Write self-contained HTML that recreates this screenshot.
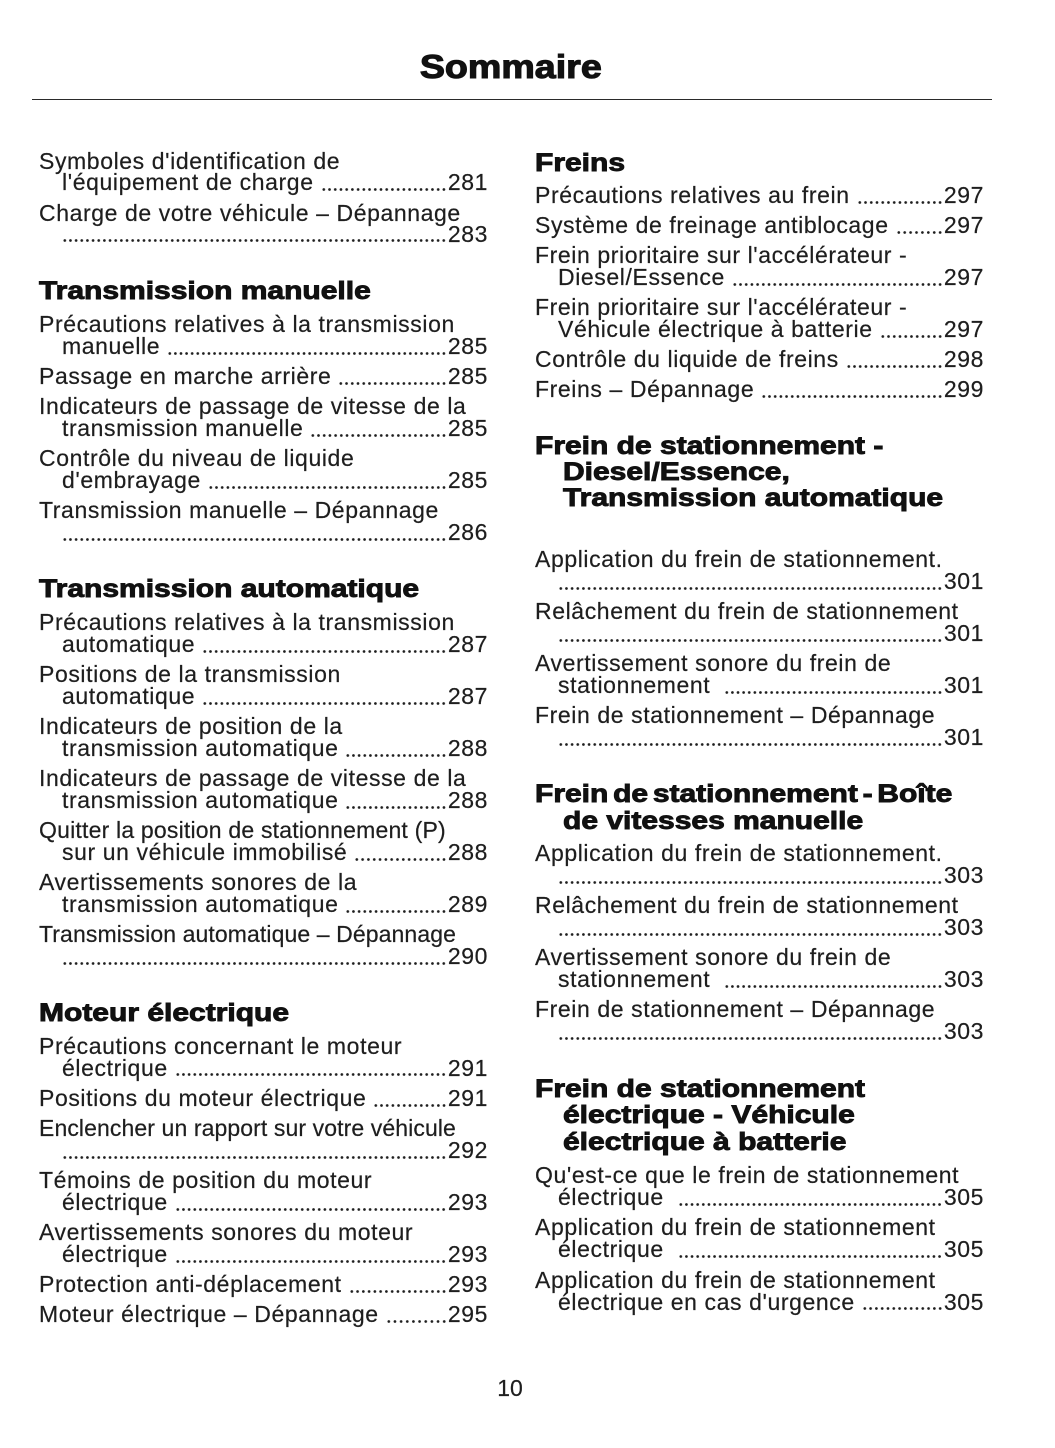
<!DOCTYPE html>
<html lang="fr">
<head>
<meta charset="utf-8">
<style>
html,body{margin:0;padding:0;background:#fff;}
body{width:1055px;height:1448px;position:relative;overflow:hidden;font-family:"Liberation Sans",Arial,sans-serif;color:#1e1e1e;}
.t{position:absolute;font-size:23px;line-height:23px;height:23px;white-space:nowrap;letter-spacing:0.6px;-webkit-text-stroke:0.2px #1e1e1e;}
.r{position:absolute;display:flex;font-size:23px;line-height:23px;height:23px;white-space:nowrap;letter-spacing:0.6px;-webkit-text-stroke:0.2px #1e1e1e;}
.r span{flex:none;}
.r i{flex:1 1 auto;min-width:0;margin-left:7px;margin-right:1px;font-style:normal;
  background-image:radial-gradient(circle at center,#1e1e1e 0,#1e1e1e 1.1px,rgba(30,30,30,0) 1.6px);
  background-size:5.6px 5px;background-repeat:space no-repeat;background-position:right 0 bottom 2.5px;}
.r i.z{margin-left:0;}
.r b{flex:none;font-weight:normal;}
.h{position:absolute;font-size:25px;line-height:25px;height:25px;font-weight:bold;white-space:nowrap;transform:scaleX(1.2);transform-origin:0 0;-webkit-text-stroke:0.9px #111;color:#111;}
.L{left:39px;}
.Li{left:62px;}
.LR{left:39px;width:449px;}
.LiR{left:62px;width:426px;}
.R{left:535px;}
.Ri{left:558px;}
.RR{left:535px;width:449px;}
.RiR{left:558px;width:426px;}
.Hi{left:563px;}
#title{position:absolute;left:311px;width:400px;top:50px;text-align:center;font-size:33px;line-height:33px;font-weight:bold;color:#111;}
#title span{display:inline-block;transform:scaleX(1.14);transform-origin:50% 0;-webkit-text-stroke:1.1px #111;}
#rule{position:absolute;left:32px;width:960px;top:98.5px;height:1.5px;background:#2a2a2a;}
#pn{position:absolute;left:460px;width:100px;text-align:center;top:1377px;font-size:23px;line-height:23px;-webkit-text-stroke:0.2px #1e1e1e;}
</style>
</head>
<body>
<div id="title"><span>Sommaire</span></div>
<div id="rule"></div>

<!-- LEFT COLUMN -->
<div class="t L" style="top:149.5px">Symboles d'identification de</div>
<div class="r LiR" style="top:171px"><span>l'équipement de charge</span><i></i><b>281</b></div>
<div class="t L" style="top:201.5px">Charge de votre véhicule – Dépannage</div>
<div class="r LiR" style="top:222.5px"><span></span><i class="z"></i><b>283</b></div>

<div class="h L" style="top:278.8px">Transmission manuelle</div>
<div class="t L" style="top:313px">Précautions relatives à la transmission</div>
<div class="r LiR" style="top:335px"><span>manuelle</span><i></i><b>285</b></div>
<div class="r LR" style="top:365px"><span>Passage en marche arrière</span><i></i><b>285</b></div>
<div class="t L" style="top:395px">Indicateurs de passage de vitesse de la</div>
<div class="r LiR" style="top:417px"><span>transmission manuelle</span><i></i><b>285</b></div>
<div class="t L" style="top:447px">Contrôle du niveau de liquide</div>
<div class="r LiR" style="top:469px"><span>d'embrayage</span><i></i><b>285</b></div>
<div class="t L" style="top:499px">Transmission manuelle – Dépannage</div>
<div class="r LiR" style="top:521px"><span></span><i class="z"></i><b>286</b></div>

<div class="h L" style="top:576.8px">Transmission automatique</div>
<div class="t L" style="top:611px">Précautions relatives à la transmission</div>
<div class="r LiR" style="top:633px"><span>automatique</span><i></i><b>287</b></div>
<div class="t L" style="top:663px">Positions de la transmission</div>
<div class="r LiR" style="top:685px"><span>automatique</span><i></i><b>287</b></div>
<div class="t L" style="top:715px">Indicateurs de position de la</div>
<div class="r LiR" style="top:737px"><span>transmission automatique</span><i></i><b>288</b></div>
<div class="t L" style="top:767px">Indicateurs de passage de vitesse de la</div>
<div class="r LiR" style="top:789px"><span>transmission automatique</span><i></i><b>288</b></div>
<div class="t L" style="top:819px;letter-spacing:0.2px">Quitter la position de stationnement (P)</div>
<div class="r LiR" style="top:841px"><span>sur un véhicule immobilisé</span><i></i><b>288</b></div>
<div class="t L" style="top:871px">Avertissements sonores de la</div>
<div class="r LiR" style="top:893px"><span>transmission automatique</span><i></i><b>289</b></div>
<div class="t L" style="top:923px;letter-spacing:0.1px">Transmission automatique – Dépannage</div>
<div class="r LiR" style="top:945px"><span></span><i class="z"></i><b>290</b></div>

<div class="h L" style="top:1001px">Moteur électrique</div>
<div class="t L" style="top:1034.5px">Précautions concernant le moteur</div>
<div class="r LiR" style="top:1056.5px"><span>électrique</span><i></i><b>291</b></div>
<div class="r LR" style="top:1087px"><span>Positions du moteur électrique</span><i></i><b>291</b></div>
<div class="t L" style="top:1117px;letter-spacing:0.1px">Enclencher un rapport sur votre véhicule</div>
<div class="r LiR" style="top:1139px"><span></span><i class="z"></i><b>292</b></div>
<div class="t L" style="top:1169px">Témoins de position du moteur</div>
<div class="r LiR" style="top:1191px"><span>électrique</span><i></i><b>293</b></div>
<div class="t L" style="top:1221px">Avertissements sonores du moteur</div>
<div class="r LiR" style="top:1243px"><span>électrique</span><i></i><b>293</b></div>
<div class="r LR" style="top:1273px"><span>Protection anti-déplacement</span><i></i><b>293</b></div>
<div class="r LR" style="top:1303px"><span>Moteur électrique – Dépannage</span><i></i><b>295</b></div>

<!-- RIGHT COLUMN -->
<div class="h R" style="top:150.8px">Freins</div>
<div class="r RR" style="top:184px"><span>Précautions relatives au frein</span><i></i><b>297</b></div>
<div class="r RR" style="top:214px"><span>Système de freinage antiblocage</span><i></i><b>297</b></div>
<div class="t R" style="top:244px">Frein prioritaire sur l'accélérateur -</div>
<div class="r RiR" style="top:266px"><span>Diesel/Essence</span><i></i><b>297</b></div>
<div class="t R" style="top:296px">Frein prioritaire sur l'accélérateur -</div>
<div class="r RiR" style="top:318px"><span>Véhicule électrique à batterie</span><i></i><b>297</b></div>
<div class="r RR" style="top:348px"><span>Contrôle du liquide de freins</span><i></i><b>298</b></div>
<div class="r RR" style="top:378px"><span>Freins – Dépannage</span><i></i><b>299</b></div>

<div class="h R" style="top:433.8px">Frein de stationnement -</div>
<div class="h Hi" style="top:460.3px">Diesel/Essence,</div>
<div class="h Hi" style="top:485.8px">Transmission automatique</div>
<div class="t R" style="top:547.5px">Application du frein de stationnement.</div>
<div class="r RiR" style="top:570px"><span></span><i class="z"></i><b>301</b></div>
<div class="t R" style="top:600px">Relâchement du frein de stationnement</div>
<div class="r RiR" style="top:622px"><span></span><i class="z"></i><b>301</b></div>
<div class="t R" style="top:652px">Avertissement sonore du frein de</div>
<div class="r RiR" style="top:674px"><span>stationnement</span><i style="margin-left:14px"></i><b>301</b></div>
<div class="t R" style="top:704px">Frein de stationnement – Dépannage</div>
<div class="r RiR" style="top:726px"><span></span><i class="z"></i><b>301</b></div>

<div class="h R" style="top:782.1px;word-spacing:-3px">Frein de stationnement - Boîte</div>
<div class="h Hi" style="top:808.6px">de vitesses manuelle</div>
<div class="t R" style="top:842px">Application du frein de stationnement.</div>
<div class="r RiR" style="top:864px"><span></span><i class="z"></i><b>303</b></div>
<div class="t R" style="top:894px">Relâchement du frein de stationnement</div>
<div class="r RiR" style="top:916px"><span></span><i class="z"></i><b>303</b></div>
<div class="t R" style="top:946px">Avertissement sonore du frein de</div>
<div class="r RiR" style="top:968px"><span>stationnement</span><i style="margin-left:14px"></i><b>303</b></div>
<div class="t R" style="top:998px">Frein de stationnement – Dépannage</div>
<div class="r RiR" style="top:1020px"><span></span><i class="z"></i><b>303</b></div>

<div class="h R" style="top:1077.1px">Frein de stationnement</div>
<div class="h Hi" style="top:1103.3px">électrique - Véhicule</div>
<div class="h Hi" style="top:1129.5px">électrique à batterie</div>
<div class="t R" style="top:1164px">Qu'est-ce que le frein de stationnement</div>
<div class="r RiR" style="top:1186px"><span>électrique</span><i style="margin-left:14px"></i><b>305</b></div>
<div class="t R" style="top:1216px">Application du frein de stationnement</div>
<div class="r RiR" style="top:1238px"><span>électrique</span><i style="margin-left:14px"></i><b>305</b></div>
<div class="t R" style="top:1268.5px">Application du frein de stationnement</div>
<div class="r RiR" style="top:1290.5px"><span>électrique en cas d'urgence</span><i></i><b>305</b></div>

<div id="pn">10</div>
</body>
</html>
